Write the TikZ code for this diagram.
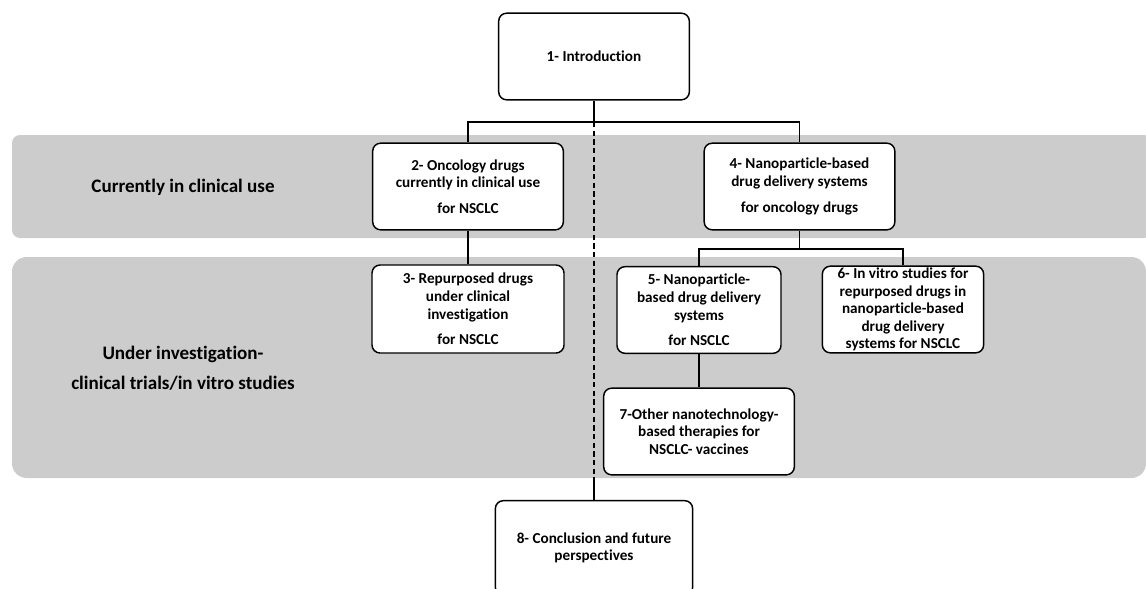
\documentclass[tikz,border=0pt]{standalone}
\usepackage{fontspec}
\setmainfont{Carlito}[Ligatures=NoCommon]
\usepackage{tikz}
\usetikzlibrary{positioning, calc}

\begin{document}
\begin{tikzpicture}[
    x=0.75pt, y=-0.75pt,
    band/.style={fill=black!20, draw=none},
    sect/.style={rectangle, draw=black, line width=1.1pt, rounded corners=6pt, fill=white, align=center, inner sep=2pt, minimum width=143pt, minimum height=65pt, font=\bfseries\fontsize{11.4}{13.2}\selectfont},
    slim/.style={sect, minimum width=123pt},
    bandlabel/.style={align=center, font=\bfseries\fontsize{14.3}{22.5}\selectfont},
    link/.style={line width=1pt},
    guide/.style={line width=0.8pt, dash pattern=on 4pt off 2.5pt}
]
\useasboundingbox (0,0) rectangle (1146,589);

% grey bands
\fill[band, rounded corners=6pt] (12,135) rectangle (1152,238);
\fill[band, rounded corners=11pt] (12,257) rectangle (1146,478);

\node[bandlabel] (clinical) at (183,187) {Currently in clinical use};
\node[bandlabel] (investig) at (183,368) {Under investigation-\\clinical trials/in vitro studies};

\node[sect] (intro) at (594,56.5) {1- Introduction};
\node[sect] (onco) at (468,186.5) {2- Oncology drugs\\currently in clinical use\\[6pt]for NSCLC};
\node[sect, minimum width=144pt, minimum height=66pt] (repur) at (468,309) {3- Repurposed drugs\\under clinical\\investigation\\[6pt]for NSCLC};
\node[sect] (nano) at (799.5,186.5) {4- Nanoparticle-based\\drug delivery systems\\[6pt]for oncology drugs};
\node[slim] (nps) at (699,310) {5- Nanoparticle-\\based drug delivery\\systems\\[6pt]for NSCLC};
\node[slim, minimum width=121pt, inner sep=0pt] (invitro) at (903,309.5) {6- In vitro studies for\\repurposed drugs in\\nanoparticle-based\\drug delivery\\systems for NSCLC};
\node[sect] (other) at (699,431.5) {7-Other nanotechnology-\\based therapies for\\NSCLC- vaccines};
\node[sect, minimum width=148pt, minimum height=71pt] (concl) at (594,548) {8- Conclusion and future\\perspectives};

\coordinate (split) at (594,122);
\coordinate (split2) at (799.5,249);
\coordinate (gap) at (594,482);

\draw[link] (intro) -- (split);
\draw[link] (split) -| (onco);
\draw[link] (split) -| (nano);
\draw[link] (onco) -- (repur);
\draw[link] (nano) -- (split2);
\draw[link] (split2) -| (nps);
\draw[link] (split2) -| (invitro);
\draw[link] (nps) -- (other);

\draw[guide] (split) -- (gap);
\draw[link] (gap) -- (concl);

\end{tikzpicture}
\end{document}
